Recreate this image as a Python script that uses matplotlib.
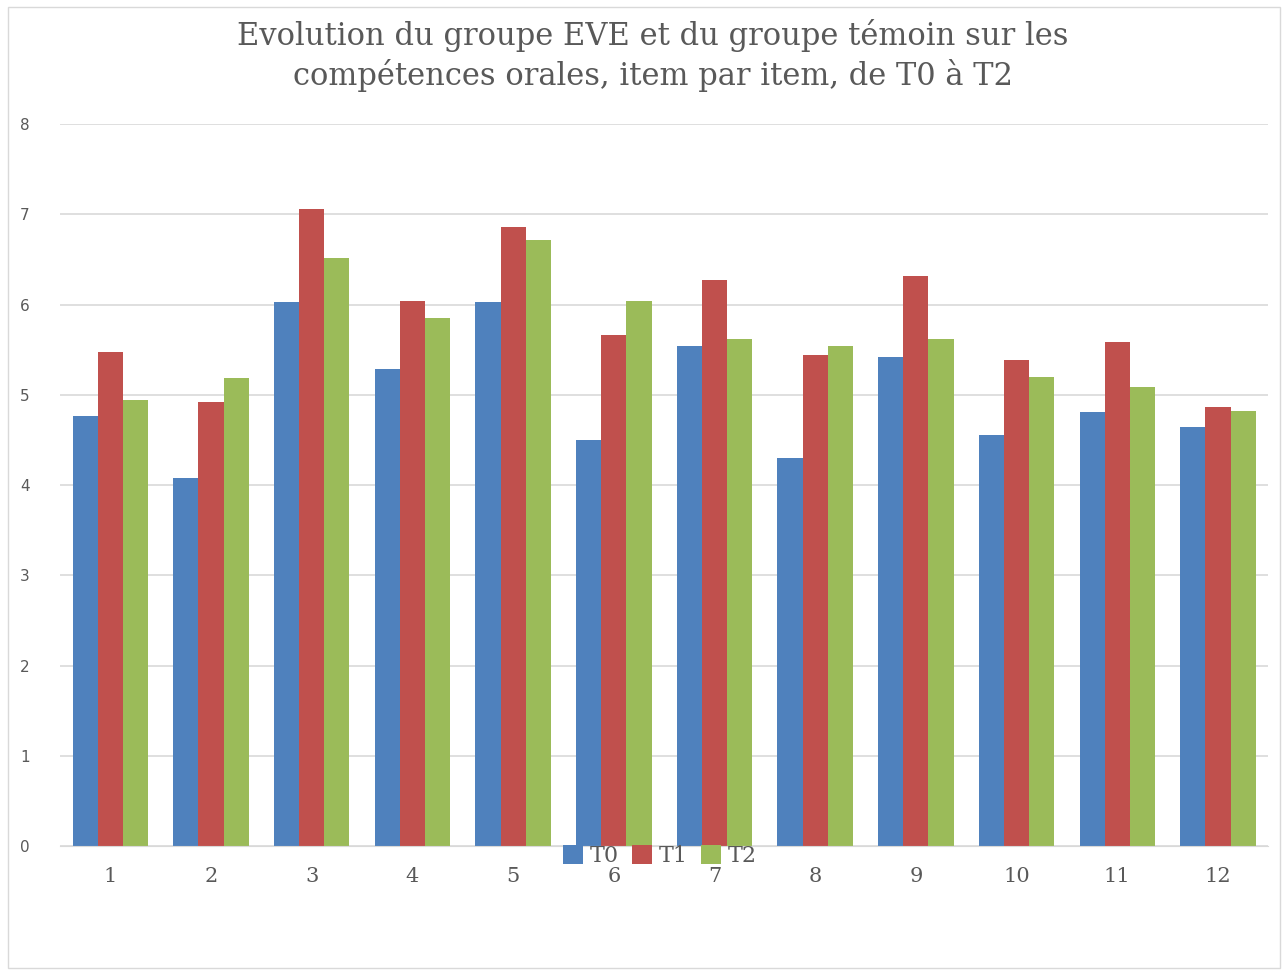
import matplotlib.pyplot as plt
import numpy as np
from matplotlib.patches import Rectangle

items = ['1', '2', '3', '4', '5', '6', '7', '8', '9', '10', '11', '12']
t0 = [4.76, 4.08, 6.03, 5.29, 6.03, 4.50, 5.54, 4.30, 5.42, 4.55, 4.81, 4.64]
t1 = [5.47, 4.92, 7.06, 6.04, 6.86, 5.66, 6.27, 5.44, 6.32, 5.39, 5.58, 4.86]
t2 = [4.94, 5.19, 6.52, 5.85, 6.71, 6.04, 5.62, 5.54, 5.62, 5.20, 5.09, 4.82]

series = [('T0', t0, '#4F81BD'), ('T1', t1, '#C0504D'), ('T2', t2, '#9BBB59')]

fig = plt.figure(figsize=(12.85, 9.71), dpi=100)
ax = fig.add_axes([0.0467, 0.1287, 0.9403, 0.7436])

x = np.arange(len(items))
w = 0.25
for i, (name, vals, col) in enumerate(series):
    ax.bar(x + (i - 1) * w, vals, w, color=col, label=name, zorder=2)

ax.set_xlim(-0.5, len(items) - 0.5)
ax.set_ylim(0, 8)
ax.set_yticks(range(0, 9))
ax.set_xticks(x)
ax.set_xticklabels(items, family='DejaVu Serif', fontsize=15, color='#595959')
ax.tick_params(axis='y', labelsize=11, labelcolor='#595959', length=0, pad=22)
ax.tick_params(axis='x', length=0, pad=15)
ax.grid(axis='y', color='#D9D9D9', linewidth=1.2, zorder=0)
for s in ['top', 'right', 'left']:
    ax.spines[s].set_visible(False)
ax.spines['bottom'].set_color('#D9D9D9')

fig.text(0.508, 0.943, 'Evolution du groupe EVE et du groupe témoin sur les\ncompétences orales, item par item, de T0 à T2',
         ha='center', va='center', family='DejaVu Serif', fontsize=22, color='#595959', linespacing=1.25)

# legend sits on the axis line, like in the original
fig.legend(loc='center', bbox_to_anchor=(660 / 1285, 1 - 856 / 971), ncol=3, frameon=False,
           handlelength=0.9, handleheight=0.9, handletextpad=0.3, columnspacing=0.6,
           prop={'family': 'DejaVu Serif', 'size': 16}, labelcolor='#595959')

fig.patches.append(Rectangle((0.006, 0.003), 0.99, 0.99, transform=fig.transFigure,
                             fill=False, edgecolor='#D9D9D9', linewidth=1))

fig.savefig('out.png', dpi=100)
